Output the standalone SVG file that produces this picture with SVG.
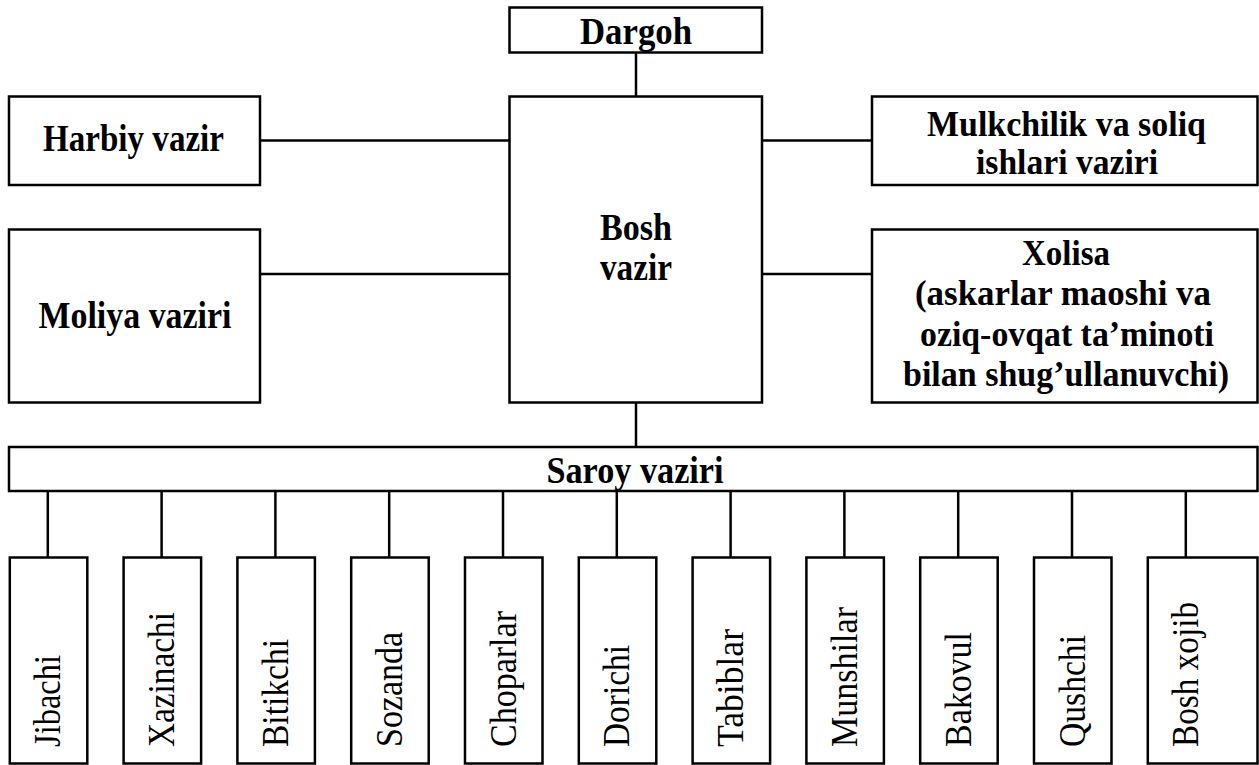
<svg xmlns="http://www.w3.org/2000/svg" width="1259" height="765" viewBox="0 0 1259 765">
<style>
.box{fill:#fff;stroke:#000;stroke-width:2.5}
.ln{stroke:#000;stroke-width:2.5;fill:none}
.b{font-family:"Liberation Serif","Times New Roman",serif;font-weight:bold;font-size:38px;text-anchor:middle;fill:#000}
.m{font-size:35px}
.v{font-family:"Liberation Serif","Times New Roman",serif;font-size:37px;fill:#000}
</style>
<rect width="1259" height="765" fill="#fff"/>
<g id="connectors">
<line class="ln" x1="636" y1="52.5" x2="636" y2="96.5"/>
<line class="ln" x1="260" y1="140.5" x2="509.5" y2="140.5"/>
<line class="ln" x1="260" y1="274" x2="509.5" y2="274"/>
<line class="ln" x1="762" y1="140.5" x2="872" y2="140.5"/>
<line class="ln" x1="762" y1="274" x2="872" y2="274"/>
<line class="ln" x1="636" y1="402.5" x2="636" y2="447"/>
<line class="ln" x1="47.8" y1="491" x2="47.8" y2="557.5"/>
<line class="ln" x1="161.6" y1="491" x2="161.6" y2="557.5"/>
<line class="ln" x1="275.4" y1="491" x2="275.4" y2="557.5"/>
<line class="ln" x1="389.2" y1="491" x2="389.2" y2="557.5"/>
<line class="ln" x1="503" y1="491" x2="503" y2="557.5"/>
<line class="ln" x1="616.8" y1="491" x2="616.8" y2="557.5"/>
<line class="ln" x1="730.6" y1="491" x2="730.6" y2="557.5"/>
<line class="ln" x1="844.4" y1="491" x2="844.4" y2="557.5"/>
<line class="ln" x1="958.2" y1="491" x2="958.2" y2="557.5"/>
<line class="ln" x1="1072" y1="491" x2="1072" y2="557.5"/>
<line class="ln" x1="1185.8" y1="491" x2="1185.8" y2="557.5"/>
</g>
<g id="dargoh">
<rect class="box" x="509.5" y="7.5" width="252.5" height="45"/>
<text class="b" x="636" y="43.5" textLength="112" lengthAdjust="spacingAndGlyphs">Dargoh</text>
</g>
<g id="bosh-vazir">
<rect class="box" x="509.5" y="96.5" width="252.5" height="306"/>
<text class="b" x="636" y="240" textLength="72" lengthAdjust="spacingAndGlyphs">Bosh</text>
<text class="b" x="636" y="280" textLength="72" lengthAdjust="spacingAndGlyphs">vazir</text>
</g>
<g id="harbiy-vazir">
<rect class="box" x="9" y="96.5" width="251" height="88.5"/>
<text class="b" x="133.5" y="151" textLength="181" lengthAdjust="spacingAndGlyphs">Harbiy vazir</text>
</g>
<g id="moliya-vaziri">
<rect class="box" x="9" y="229.5" width="251" height="173"/>
<text class="b" x="135" y="328" textLength="193" lengthAdjust="spacingAndGlyphs">Moliya vaziri</text>
</g>
<g id="mulkchilik">
<rect class="box" x="872" y="96.5" width="385.5" height="88.5"/>
<text class="b m" x="1066.5" y="136" textLength="279" lengthAdjust="spacingAndGlyphs">Mulkchilik va soliq</text>
<text class="b m" x="1067" y="174" textLength="182" lengthAdjust="spacingAndGlyphs">ishlari vaziri</text>
</g>
<g id="xolisa">
<rect class="box" x="872" y="229.5" width="385.5" height="173"/>
<text class="b m" x="1066" y="265" textLength="88" lengthAdjust="spacingAndGlyphs">Xolisa</text>
<text class="b m" x="1063" y="305" textLength="296" lengthAdjust="spacingAndGlyphs">(askarlar maoshi va</text>
<text class="b m" x="1067" y="346" textLength="294" lengthAdjust="spacingAndGlyphs">oziq-ovqat ta’minoti</text>
<text class="b m" x="1066" y="386" textLength="326" lengthAdjust="spacingAndGlyphs">bilan shug’ullanuvchi)</text>
</g>
<g id="saroy-vaziri">
<rect class="box" x="9" y="447" width="1248.5" height="44"/>
<text class="b" x="635" y="483" textLength="177" lengthAdjust="spacingAndGlyphs">Saroy vaziri</text>
</g>
<g id="jibachi">
<rect class="box" x="9.8" y="557.5" width="77.5" height="206"/>
<text class="v" transform="translate(60.3,747) rotate(-90)" textLength="92" lengthAdjust="spacingAndGlyphs">Jibachi</text>
</g>
<g id="xazinachi">
<rect class="box" x="123.6" y="557.5" width="77.5" height="206"/>
<text class="v" transform="translate(174.1,747) rotate(-90)" textLength="135" lengthAdjust="spacingAndGlyphs">Xazinachi</text>
</g>
<g id="bitikchi">
<rect class="box" x="237.4" y="557.5" width="77.5" height="206"/>
<text class="v" transform="translate(287.9,747) rotate(-90)" textLength="108" lengthAdjust="spacingAndGlyphs">Bitikchi</text>
</g>
<g id="sozanda">
<rect class="box" x="351.2" y="557.5" width="77.5" height="206"/>
<text class="v" transform="translate(401.7,747) rotate(-90)" textLength="115" lengthAdjust="spacingAndGlyphs">Sozanda</text>
</g>
<g id="choparlar">
<rect class="box" x="465" y="557.5" width="77.5" height="206"/>
<text class="v" transform="translate(515.5,747) rotate(-90)" textLength="136" lengthAdjust="spacingAndGlyphs">Choparlar</text>
</g>
<g id="dorichi">
<rect class="box" x="578.8" y="557.5" width="77.5" height="206"/>
<text class="v" transform="translate(629.3,747) rotate(-90)" textLength="102" lengthAdjust="spacingAndGlyphs">Dorichi</text>
</g>
<g id="tabiblar">
<rect class="box" x="692.6" y="557.5" width="77.5" height="206"/>
<text class="v" transform="translate(743.1,747) rotate(-90)" textLength="118" lengthAdjust="spacingAndGlyphs">Tabiblar</text>
</g>
<g id="munshilar">
<rect class="box" x="806.4" y="557.5" width="77.5" height="206"/>
<text class="v" transform="translate(856.9,747) rotate(-90)" textLength="140" lengthAdjust="spacingAndGlyphs">Munshilar</text>
</g>
<g id="bakovul">
<rect class="box" x="920.2" y="557.5" width="77.5" height="206"/>
<text class="v" transform="translate(970.7,747) rotate(-90)" textLength="115" lengthAdjust="spacingAndGlyphs">Bakovul</text>
</g>
<g id="qushchi">
<rect class="box" x="1034" y="557.5" width="77.5" height="206"/>
<text class="v" transform="translate(1084.5,747) rotate(-90)" textLength="112" lengthAdjust="spacingAndGlyphs">Qushchi</text>
</g>
<g id="bosh-xojib">
<rect class="box" x="1147.8" y="557.5" width="109.7" height="206"/>
<text class="v" transform="translate(1198.3,747) rotate(-90)" textLength="145" lengthAdjust="spacingAndGlyphs">Bosh xojib</text>
</g>
</svg>
